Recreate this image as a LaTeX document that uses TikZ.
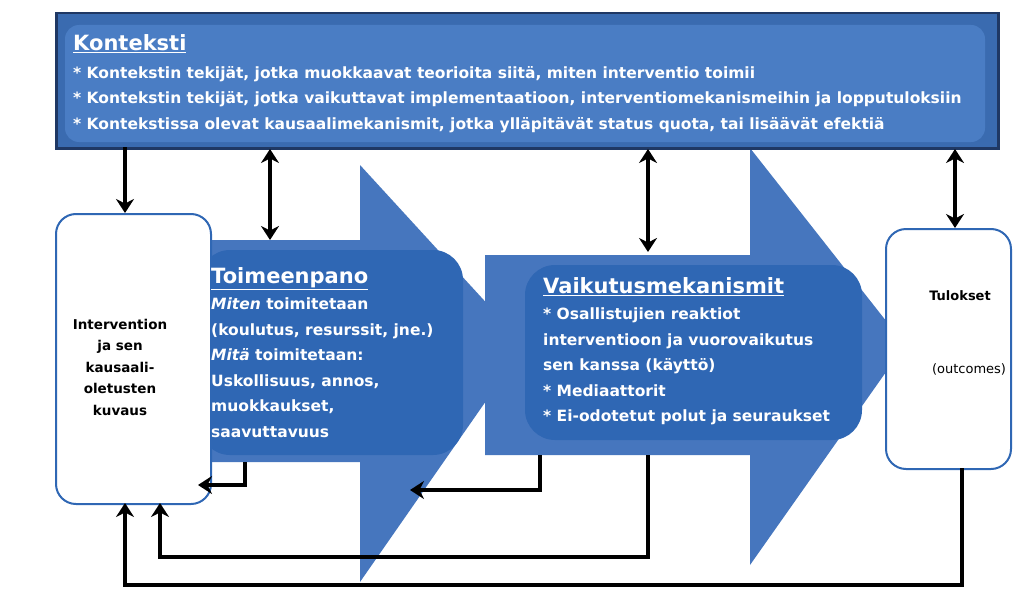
\documentclass[tikz,border=0pt]{standalone}
\usepackage{fontspec}
\setmainfont{DejaVu Sans}
\usetikzlibrary{arrows.meta}
\definecolor{ctxout}{HTML}{3A6BB0}
\definecolor{ctxin}{HTML}{4A7DC4}
\definecolor{arr}{HTML}{4676BE}
\definecolor{arrin}{HTML}{2F67B4}
\definecolor{navy}{HTML}{1F3864}
\tikzset{
  conn/.style={line width=4pt,-{Stealth[length=14pt,width=18pt]}},
  dconn/.style={line width=4pt,{Stealth[length=14pt,width=18pt]}-{Stealth[length=14pt,width=18pt]}},
  whitebox/.style={draw=arrin,line width=2pt,fill=white,rounded corners=20pt},
  wtxt/.style={text=white,align=left,anchor=north west,inner sep=0},
}
\begin{document}
\begin{tikzpicture}[x=1pt,y=-1pt]
\useasboundingbox (0,0) rectangle (1024,602);
% arrows shapes
\fill[arr] (193,240) -- (360,240) -- (360,165) -- (525,345) -- (360,582) -- (360,462) -- (193,462) -- cycle;
\fill[arrin,rounded corners=30pt] (200,250) rectangle (463,455);
\fill[arr] (485,255) -- (750,255) -- (750,148) -- (905,345) -- (750,565) -- (750,455) -- (485,455) -- cycle;
\fill[arrin,rounded corners=30pt] (525,265) rectangle (862,440);
% context
\node[draw=navy,line width=2.5pt,fill=ctxout,minimum width=942pt,minimum height=135pt,anchor=north west,inner sep=0] (ctx) at (55,12) {};
\fill[ctxin,rounded corners=14pt] (65,25) rectangle (985,142);
\node[wtxt,font=\bfseries\fontsize{21}{26}\selectfont] (kt) at (73,34) {\underline{Konteksti}};
\node[wtxt,font=\bfseries\fontsize{15.5}{25.5}\selectfont] (kl) at (73,66) {* Kontekstin tekijät, jotka muokkaavat teorioita siitä, miten interventio toimii\\
* Kontekstin tekijät, jotka vaikuttavat implementaatioon, interventiomekanismeihin ja lopputuloksiin\\
* Kontekstissa olevat kausaalimekanismit, jotka ylläpitävät status quota, tai lisäävät efektiä};
% boxes
\node[whitebox,minimum width=155pt,minimum height=290pt,anchor=north west] (left) at (55,213) {};
\node[font=\bfseries\fontsize{13.5}{21.5}\selectfont,align=center] (lt) at (120,367) {Intervention\\ja sen\\kausaali-\\oletusten\\kuvaus};
\node[whitebox,minimum width=125pt,minimum height=240pt,anchor=north west] (right) at (885,228) {};
\node[font=\bfseries\fontsize{13}{15}\selectfont] (rt) at (960,296) {Tulokset};
\node[font=\fontsize{13}{15}\selectfont] (ro) at (969,369) {(outcomes)};
% arrow texts
\node[wtxt,font=\bfseries\fontsize{21}{26}\selectfont] (tp) at (211,267) {\underline{Toimeenpano}};
\node[wtxt,font=\bfseries\fontsize{15.5}{25.5}\selectfont] (tpl) at (211,298) {\textit{Miten} toimitetaan\\(koulutus, resurssit, jne.)\\\textit{Mitä} toimitetaan:\\Uskollisuus, annos,\\muokkaukset,\\saavuttavuus};
\node[wtxt,font=\bfseries\fontsize{21}{26}\selectfont] (vm) at (543,277) {\underline{Vaikutusmekanismit}};
\node[wtxt,font=\bfseries\fontsize{15.5}{25.5}\selectfont] (vml) at (543,308) {* Osallistujien reaktiot\\interventioon ja vuorovaikutus\\sen kanssa (käyttö)\\* Mediaattorit\\* Ei-odotetut polut ja seuraukset};
% connectors
\coordinate (c1) at (125,147); \coordinate (c1e) at (125,213);
\draw[conn] (c1) -- (c1e);
\draw[dconn] (270,149) -- (270,240);
\draw[dconn] (648,149) -- (648,252);
\draw[dconn] (955,149) -- (955,228);
\draw[conn] (245,462) -- (245,485) -- (198,485);
\draw[conn] (540,455) -- (540,490) -- (410,490);
\draw[conn] (648,455) -- (648,557) -- (160,557) -- (160,503);
\draw[conn] (962,468) -- (962,585) -- (125,585) -- (125,503);
\end{tikzpicture}
\end{document}
